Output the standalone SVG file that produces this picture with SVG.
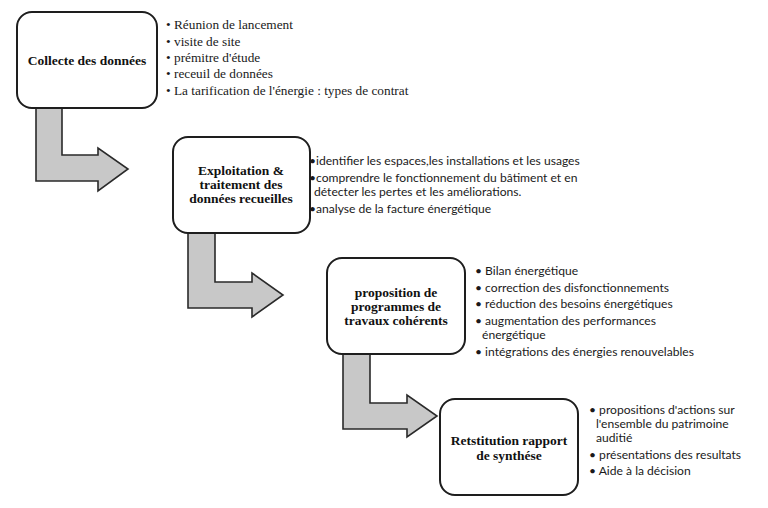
<svg xmlns="http://www.w3.org/2000/svg" width="768" height="508" viewBox="0 0 768 508">
<style>
.box{fill:#fff;stroke:#1e1e1e;stroke-width:2}
.arr{fill:#c8c8c8;stroke:#2a2a2a;stroke-width:1.6;stroke-linejoin:miter}
.title{font-family:"Liberation Serif",serif;font-weight:bold;font-size:13.5px;fill:#111;text-anchor:middle}
.ser{font-family:"Liberation Serif",serif;font-size:13.3px;fill:#1a1a1a}
.san{font-family:Lato,"Noto Sans",sans-serif;font-size:12.1px;fill:#1a1a1a}
</style>
<rect width="768" height="508" fill="#fff"/>
<g id="connectors">
<polygon class="arr" points="36,108 62,108 62,155 98,155 98,148 128,169 98,191 98,181 36,181"/>
<polygon class="arr" points="188,233 215,233 215,282 252,282 252,273 283,295 252,317 252,308 188,308"/>
<polygon class="arr" points="343,354 370,354 370,403 407,403 407,395 437,416 407,437 407,429 343,429"/>
</g>
<g id="node1">
<rect class="box" x="17" y="12" width="140" height="96" rx="15"/>
<text class="title" x="87" y="65">Collecte des données</text>
<g class="ser">
<text x="166" y="29">• Réunion de lancement</text>
<text x="166" y="46">• visite de site</text>
<text x="166" y="62">• prémitre d'étude</text>
<text x="166" y="78">• receuil de données</text>
<text x="166" y="95">• La tarification de l'énergie : types de contrat</text>
</g>
</g>
<g id="node2">
<rect class="box" x="173" y="137" width="137" height="96" rx="15"/>
<text class="title" x="241" y="175">Exploitation &amp;</text>
<text class="title" x="241" y="189">traitement des</text>
<text class="title" x="241" y="203">données recueilles</text>
<g class="san">
<text x="309" y="165">•identifier les espaces,les installations et les usages</text>
<text x="309" y="182">•comprendre le fonctionnement du bâtiment et en</text>
<text x="314" y="196">détecter les pertes et les améliorations.</text>
<text x="309" y="213">•analyse de la facture énergétique</text>
</g>
</g>
<g id="node3">
<rect class="box" x="327" y="258" width="138" height="96" rx="15"/>
<text class="title" x="396" y="297">proposition de</text>
<text class="title" x="396" y="311">programmes de</text>
<text class="title" x="396" y="325">travaux cohérents</text>
<g class="san">
<text x="475" y="275">• Bilan énergétique</text>
<text x="475" y="292">• correction des disfonctionnements</text>
<text x="475" y="308">• réduction des besoins énergétiques</text>
<text x="475" y="325">• augmentation des performances</text>
<text x="482" y="339">énergétique</text>
<text x="475" y="356">• intégrations des énergies renouvelables</text>
</g>
</g>
<g id="node4">
<rect class="box" x="440" y="399" width="138" height="96" rx="15"/>
<text class="title" x="509" y="445">Retstitution rapport</text>
<text class="title" x="509" y="460">de synthése</text>
<g class="san">
<text x="589" y="414">• propositions d'actions sur</text>
<text x="596" y="428">l'ensemble du patrimoine</text>
<text x="596" y="442">auditié</text>
<text x="589" y="459">• présentations des resultats</text>
<text x="589" y="475">• Aide à la décision</text>
</g>
</g>
</svg>
